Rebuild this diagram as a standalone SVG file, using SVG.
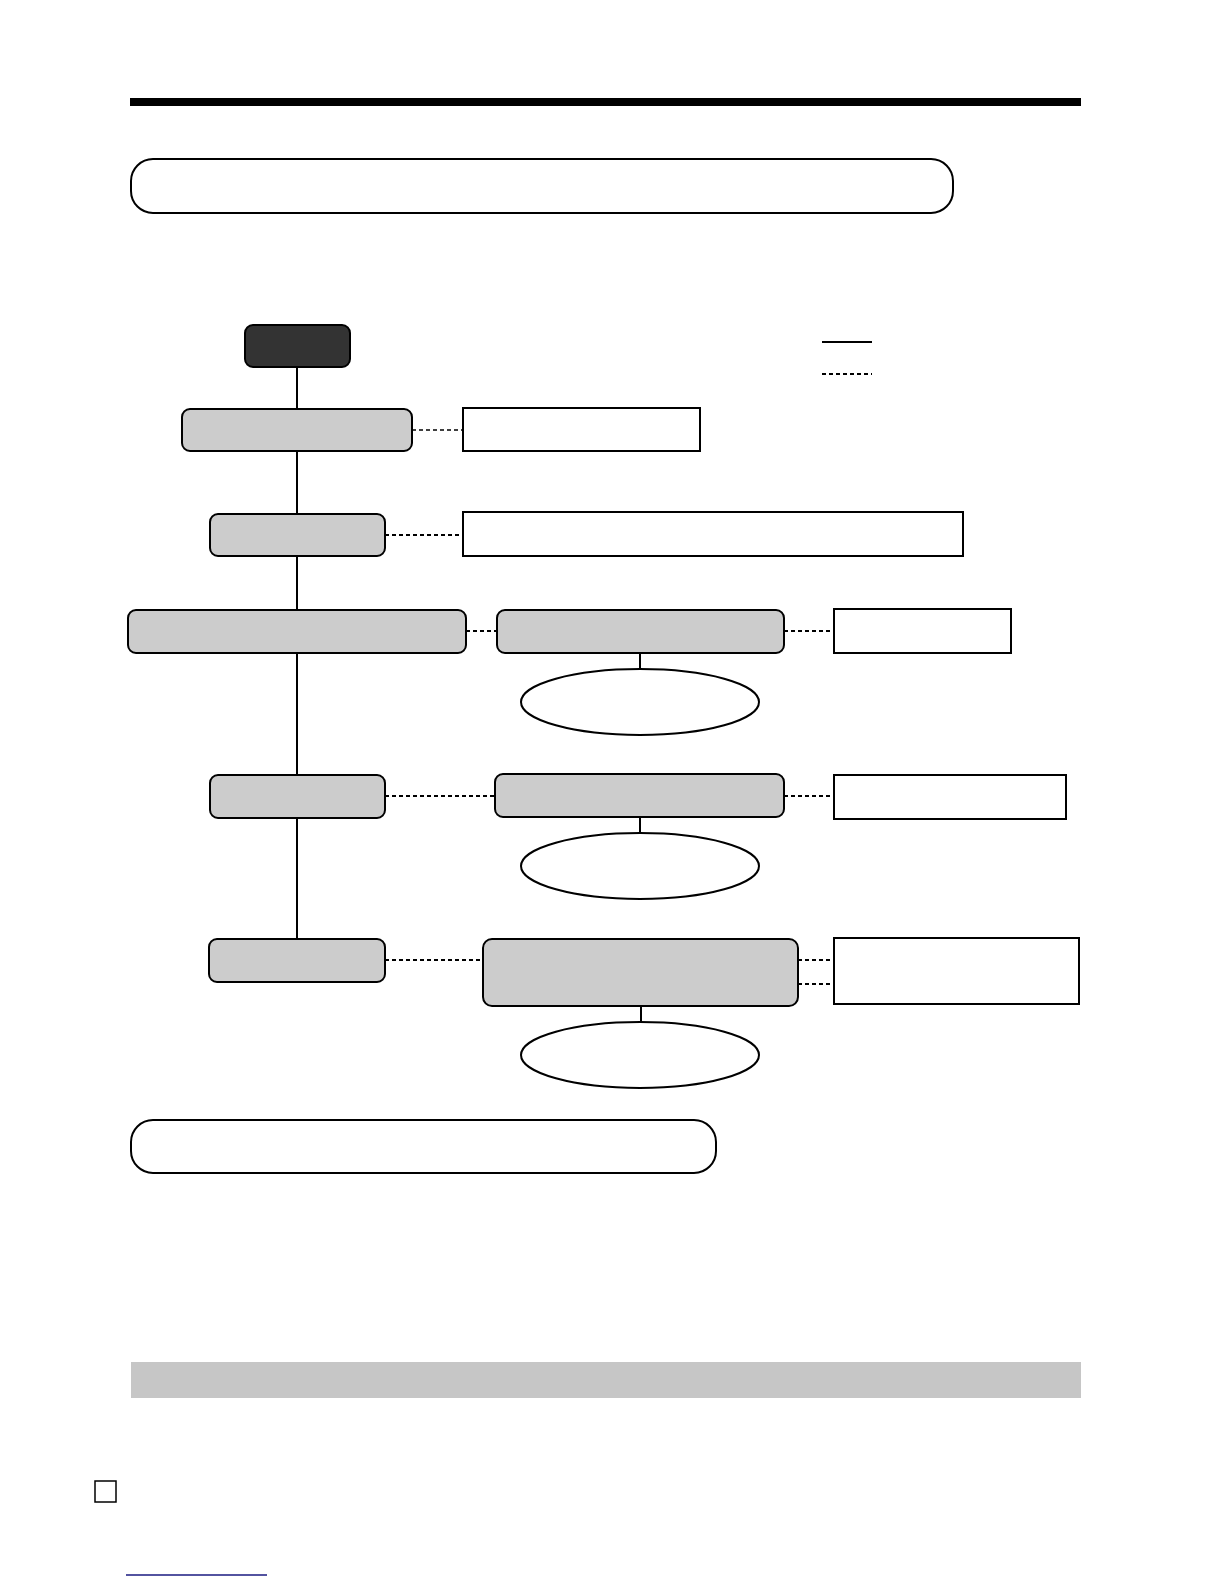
<svg xmlns="http://www.w3.org/2000/svg" width="1224" height="1584" viewBox="0 0 1224 1584">
<style>
.n{fill:#cccccc;stroke:#000;stroke-width:2}
.b{fill:#fff;stroke:#000;stroke-width:2}
.s{stroke:#000;stroke-width:2;fill:none}
.d{stroke:#000;stroke-width:2;stroke-dasharray:4 3;fill:none}
.dt{stroke:#000;stroke-width:1.3;stroke-dasharray:4 3;fill:none}
</style>
<rect x="0" y="0" width="1224" height="1584" fill="#fff"/>
<rect x="130" y="98" width="951" height="8" fill="#000"/>
<rect id="banner1" x="131" y="159" width="822" height="54" rx="22" class="b"/>
<g id="connectors">
<line x1="297" y1="367" x2="297" y2="940" class="s"/>
<line x1="412" y1="430" x2="463" y2="430" class="dt"/>
<line x1="385" y1="535" x2="463" y2="535" class="d"/>
<line x1="466" y1="631" x2="497" y2="631" class="d"/>
<line x1="784" y1="631" x2="834" y2="631" class="d"/>
<line x1="640" y1="653" x2="640" y2="669" class="s"/>
<line x1="385" y1="796" x2="495" y2="796" class="d"/>
<line x1="784" y1="796" x2="834" y2="796" class="d"/>
<line x1="640" y1="817" x2="640" y2="833" class="s"/>
<line x1="385" y1="960" x2="483" y2="960" class="d"/>
<line x1="798" y1="960" x2="834" y2="960" class="d"/>
<line x1="798" y1="984" x2="834" y2="984" class="d"/>
<line x1="641" y1="1006" x2="641" y2="1022" class="s"/>
<line x1="822" y1="342" x2="872" y2="342" class="s"/>
<line x1="822" y1="374" x2="872" y2="374" class="d"/>
</g>
<g id="start"><rect x="245" y="325" width="105" height="42" rx="8" fill="#333333" stroke="#000" stroke-width="2"/></g>
<g id="nodeA"><rect x="182" y="409" width="230" height="42" rx="8" class="n"/></g>
<g id="boxA"><rect x="463" y="408" width="237" height="43" class="b"/></g>
<g id="nodeB"><rect x="210" y="514" width="175" height="42" rx="8" class="n"/></g>
<g id="boxB"><rect x="463" y="512" width="500" height="44" class="b"/></g>
<g id="nodeC"><rect x="128" y="610" width="338" height="43" rx="8" class="n"/></g>
<g id="nodeC2"><rect x="497" y="610" width="287" height="43" rx="8" class="n"/></g>
<g id="boxC"><rect x="834" y="609" width="177" height="44" class="b"/></g>
<g id="ellC"><ellipse cx="640" cy="702" rx="119" ry="33" class="b"/></g>
<g id="nodeD"><rect x="210" y="775" width="175" height="43" rx="8" class="n"/></g>
<g id="nodeD2"><rect x="495" y="774" width="289" height="43" rx="8" class="n"/></g>
<g id="boxD"><rect x="834" y="775" width="232" height="44" class="b"/></g>
<g id="ellD"><ellipse cx="640" cy="866" rx="119" ry="33" class="b"/></g>
<g id="nodeE"><rect x="209" y="939" width="176" height="43" rx="8" class="n"/></g>
<g id="nodeE2"><rect x="483" y="939" width="315" height="67" rx="9" class="n"/></g>
<g id="boxE"><rect x="834" y="938" width="245" height="66" class="b"/></g>
<g id="ellE"><ellipse cx="640" cy="1055" rx="119" ry="33" class="b"/></g>
<rect id="banner2" x="131" y="1120" width="585" height="53" rx="22" class="b"/>
<rect x="131" y="1362" width="950" height="36" fill="#c6c6c6"/>
<rect x="95" y="1481" width="21" height="21" fill="#fff" stroke="#000" stroke-width="1.5"/>
<line x1="126" y1="1575" x2="267" y2="1575" stroke="#1a1a80" stroke-width="1.5"/>
</svg>
